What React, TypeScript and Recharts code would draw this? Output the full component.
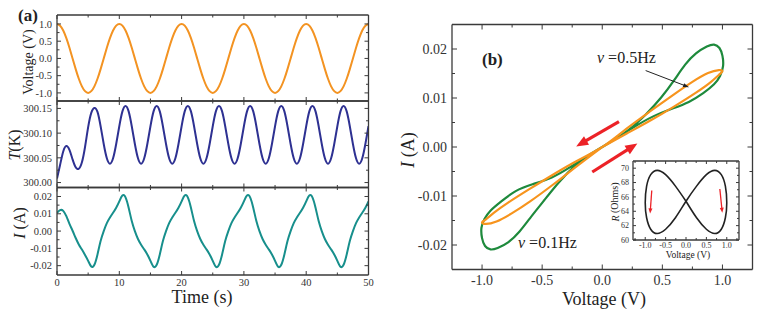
import { LineChart, Line, XAxis, YAxis, ReferenceLine } from "recharts";

const W = 763;
const H = 317;
const SERIF = "'Liberation Serif', 'Times New Roman', serif";
const AXIS = "#3a3a3a";
const LABEL = "#333";

// ---- panel (a): time traces, one sample every 0.5 s ----
const TIME = [
  0, 0.5, 1, 1.5, 2, 2.5, 3, 3.5, 4, 4.5, 5, 5.5, 6, 6.5, 7, 7.5, 8, 8.5, 9, 9.5,
  10, 10.5, 11, 11.5, 12, 12.5, 13, 13.5, 14, 14.5, 15, 15.5, 16, 16.5, 17, 17.5, 18, 18.5, 19, 19.5,
  20, 20.5, 21, 21.5, 22, 22.5, 23, 23.5, 24, 24.5, 25, 25.5, 26, 26.5, 27, 27.5, 28, 28.5, 29, 29.5,
  30, 30.5, 31, 31.5, 32, 32.5, 33, 33.5, 34, 34.5, 35, 35.5, 36, 36.5, 37, 37.5, 38, 38.5, 39, 39.5,
  40, 40.5, 41, 41.5, 42, 42.5, 43, 43.5, 44, 44.5, 45, 45.5, 46, 46.5, 47, 47.5, 48, 48.5, 49, 49.5,
  50,
];

const VOLTAGE = [
  1, 0.95, 0.81, 0.59, 0.31, 0, -0.31, -0.59, -0.81, -0.95, -1, -0.95, -0.81, -0.59, -0.31, 0, 0.31, 0.59, 0.81, 0.95,
  1, 0.95, 0.81, 0.59, 0.31, 0, -0.31, -0.59, -0.81, -0.95, -1, -0.95, -0.81, -0.59, -0.31, 0, 0.31, 0.59, 0.81, 0.95,
  1, 0.95, 0.81, 0.59, 0.31, 0, -0.31, -0.59, -0.81, -0.95, -1, -0.95, -0.81, -0.59, -0.31, 0, 0.31, 0.59, 0.81, 0.95,
  1, 0.95, 0.81, 0.59, 0.31, 0, -0.31, -0.59, -0.81, -0.95, -1, -0.95, -0.81, -0.59, -0.31, 0, 0.31, 0.59, 0.81, 0.95,
  1, 0.95, 0.81, 0.59, 0.31, 0, -0.31, -0.59, -0.81, -0.95, -1, -0.95, -0.81, -0.59, -0.31, 0, 0.31, 0.59, 0.81, 0.95,
  1,
];

const TEMP = [
  300.008, 300.036, 300.063, 300.074, 300.066, 300.047, 300.031, 300.028, 300.041, 300.072,
  300.112, 300.141, 300.151, 300.143, 300.114, 300.078, 300.049, 300.038, 300.049, 300.078,
  300.114, 300.144, 300.155, 300.144, 300.114, 300.078, 300.049, 300.038, 300.049, 300.078,
  300.114, 300.144, 300.155, 300.144, 300.114, 300.078, 300.049, 300.038, 300.049, 300.078,
  300.114, 300.144, 300.155, 300.144, 300.114, 300.078, 300.049, 300.038, 300.049, 300.078,
  300.114, 300.144, 300.155, 300.144, 300.114, 300.078, 300.049, 300.038, 300.049, 300.078,
  300.114, 300.144, 300.155, 300.144, 300.114, 300.078, 300.049, 300.038, 300.049, 300.078,
  300.114, 300.144, 300.155, 300.144, 300.114, 300.078, 300.049, 300.038, 300.049, 300.078,
  300.114, 300.144, 300.155, 300.144, 300.114, 300.078, 300.049, 300.038, 300.049, 300.078,
  300.114, 300.144, 300.155, 300.144, 300.114, 300.078, 300.049, 300.038, 300.049, 300.078,
  300.114,
];

const CURRENT = [
  0.0105, 0.0121, 0.0117, 0.0086, 0.0042, 0.0002, -0.004, -0.0077, -0.0107, -0.0138,
  -0.0172, -0.0205, -0.0195, -0.0135, -0.0058, 0, 0.0046, 0.0079, 0.0106, 0.0135,
  0.0172, 0.0206, 0.0195, 0.0135, 0.0058, 0, -0.0046, -0.0079, -0.0106, -0.0135,
  -0.0172, -0.0206, -0.0195, -0.0135, -0.0058, 0, 0.0046, 0.0079, 0.0106, 0.0135,
  0.0172, 0.0206, 0.0195, 0.0135, 0.0058, 0, -0.0046, -0.0079, -0.0106, -0.0135,
  -0.0172, -0.0206, -0.0195, -0.0135, -0.0058, 0, 0.0046, 0.0079, 0.0106, 0.0135,
  0.0172, 0.0206, 0.0195, 0.0135, 0.0058, 0, -0.0046, -0.0079, -0.0106, -0.0135,
  -0.0172, -0.0206, -0.0195, -0.0135, -0.0058, 0, 0.0046, 0.0079, 0.0106, 0.0135,
  0.0172, 0.0206, 0.0195, 0.0135, 0.0058, 0, -0.0046, -0.0079, -0.0106, -0.0135,
  -0.0172, -0.0206, -0.0195, -0.0135, -0.0058, 0, 0.0046, 0.0079, 0.0106, 0.0135,
  0.0172,
];

const TIME_TICKS = [0, 5, 10, 15, 20, 25, 30, 35, 40, 45, 50];
const TIME_MAJOR = [0, 10, 20, 30, 40, 50];
const VOLT_TICKS = [-1, -0.75, -0.5, -0.25, 0, 0.25, 0.5, 0.75, 1];
const VOLT_MAJOR = [-1, -0.5, 0, 0.5, 1];
const TEMP_TICKS = [300, 300.025, 300.05, 300.075, 300.1, 300.125, 300.15];
const TEMP_MAJOR = [300, 300.05, 300.1, 300.15];
const CUR_TICKS = [-0.02, -0.015, -0.01, -0.005, 0, 0.005, 0.01, 0.015, 0.02];
const CUR_MAJOR = [-0.02, -0.01, 0, 0.01, 0.02];

// ---- panel (b): I-V loops ----
const GREEN_V = [
  0, 0.12, 0.26, 0.42, 0.58, 0.72, 0.84, 0.93, 0.98, 1.005, 1.0, 0.975, 0.93, 0.87, 0.78, 0.69, 0.6, 0.49, 0.36, 0.22, 0.1, 0,
  -0.12, -0.26, -0.42, -0.58, -0.72, -0.84, -0.93, -0.98, -1.005, -1.0, -0.975, -0.93, -0.87, -0.78, -0.69, -0.6, -0.49, -0.36, -0.22, -0.1, 0,
];
const GREEN_I = [
  0, 0.0018, 0.004, 0.0062, 0.0078, 0.0092, 0.011, 0.0128, 0.0145, 0.0165, 0.0186, 0.0202, 0.0209, 0.0205, 0.0191, 0.0168, 0.0137, 0.0101, 0.0066, 0.0035, 0.0015, 0,
  -0.0018, -0.004, -0.0062, -0.0076, -0.009, -0.0111, -0.013, -0.0147, -0.0165, -0.0186, -0.0202, -0.0209, -0.0206, -0.0194, -0.0173, -0.0145, -0.0111, -0.0072, -0.0037, -0.0015, 0,
];
const ORANGE_V = [
  0, 0.2, 0.4, 0.6, 0.78, 0.9, 0.97, 1.0, 0.97, 0.88, 0.75, 0.6, 0.4, 0.2, 0,
  -0.2, -0.4, -0.6, -0.78, -0.9, -0.97, -1.0, -0.97, -0.88, -0.75, -0.6, -0.4, -0.2, 0,
];
const ORANGE_I = [
  0, 0.0027, 0.0054, 0.0083, 0.0111, 0.0132, 0.0147, 0.0155, 0.0157, 0.0151, 0.0133, 0.0108, 0.0073, 0.0037, 0,
  -0.0027, -0.0055, -0.0085, -0.0113, -0.0134, -0.0148, -0.0154, -0.0157, -0.0152, -0.0135, -0.0111, -0.0075, -0.0037, 0,
];
const B_V_TICKS = [-1, -0.75, -0.5, -0.25, 0, 0.25, 0.5, 0.75, 1];
const B_V_MAJOR = [-1, -0.5, 0, 0.5, 1];
const B_I_TICKS = [-0.02, -0.015, -0.01, -0.005, 0, 0.005, 0.01, 0.015, 0.02];
const B_I_MAJOR = [-0.02, -0.01, 0, 0.01, 0.02];

// ---- inset: R vs V ----
const INSET_V = [
  0, -0.259, -0.5, -0.707, -0.866, -0.966, -1, -0.966, -0.866, -0.707, -0.5, -0.259,
  0, 0.259, 0.5, 0.707, 0.866, 0.966, 1, 0.966, 0.866, 0.707, 0.5, 0.259, 0,
];
const INSET_R = [
  65.4, 67.5, 69.1, 69.7, 69.1, 67.5, 65.2, 63.1, 61.5, 60.9, 61.5, 63.1,
  65.4, 67.5, 69.1, 69.7, 69.1, 67.5, 65.2, 63.1, 61.5, 60.9, 61.5, 63.1, 65.4,
];
const IN_V_TICKS = [-1.25, -1, -0.75, -0.5, -0.25, 0, 0.25, 0.5, 0.75, 1, 1.25];
const IN_V_MAJOR = [-1, -0.5, 0, 0.5, 1];
const IN_R_TICKS = [60, 61, 62, 63, 64, 65, 66, 67, 68, 69, 70];
const IN_R_MAJOR = [60, 62, 64, 66, 68, 70];

// annotation arrows, in data units [x, y]
const RED_ARROWS = [
  { from: [0.139, 0.0052], to: [-0.217, 0.0001] },
  { from: [-0.083, -0.0051], to: [0.292, 0.0007] },
];
const NOTE_ARROW = { from: [0.361, 0.0156], to: [0.722, 0.0122] };
const INSET_ARROWS = [
  { from: [-0.84, 66.9], to: [-0.88, 63.7] },
  { from: [0.83, 67.1], to: [0.89, 63.8] },
];

type Side = "bottom" | "top" | "left" | "right";

interface TickOpts {
  side: Side;
  majors: number[];
  long: number;
  short: number;
  label?: (v: number) => string;
  size: number;
  gap: number;
}

const isMajor = (v: number, list: number[]) => list.some((m) => Math.abs(m - v) < 1e-6);

// inward ticks drawn by hand, labels only on major ones
function makeTick(o: TickOpts) {
  return (p: any) => {
    const v = Number(p.payload.value);
    const major = isMajor(v, o.majors);
    const len = major ? o.long : o.short;
    const x = p.x;
    const y = p.y;
    const txt = o.label && major ? o.label(v) : null;
    let l = [x, y, x, y];
    let text = null;
    if (o.side === "bottom") {
      l = [x, y, x, y - len];
      if (txt) text = <text x={x} y={y + o.gap + o.size * 0.72} textAnchor="middle">{txt}</text>;
    } else if (o.side === "top") {
      l = [x, y, x, y + len];
    } else if (o.side === "left") {
      l = [x, y, x + len, y];
      if (txt) text = <text x={x - o.gap} y={y + o.size * 0.35} textAnchor="end">{txt}</text>;
    } else {
      l = [x, y, x - len, y];
    }
    return (
      <g>
        <line x1={l[0]} y1={l[1]} x2={l[2]} y2={l[3]} stroke={AXIS} strokeWidth={1} />
        {text && (
          <g fill={LABEL} fontSize={o.size} fontFamily={SERIF} stroke="none">
            {text}
          </g>
        )}
      </g>
    );
  };
}

interface FrameOpts {
  xKey: string;
  xDomain: [number, number];
  yDomain: [number, number];
  xTicks: number[];
  xMajors: number[];
  yTicks: number[];
  yMajors: number[];
  xLabel?: (v: number) => string;
  yLabel?: (v: number) => string;
  long: number;
  short: number;
  size: number;
  xGap: number;
  yGap: number;
}

// axes are 1px thick so they render; margins below subtract that pixel
function frame(o: FrameOpts) {
  const common = {
    type: "number" as const,
    allowDataOverflow: true,
    tickLine: false,
    axisLine: { stroke: AXIS, strokeWidth: 1.3 },
    tickSize: 0,
    tickMargin: 0,
    interval: 0 as const,
  };
  const t = { long: o.long, short: o.short, size: o.size };
  return [
    <XAxis key="xb" xAxisId="b" orientation="bottom" dataKey={o.xKey} height={1} domain={o.xDomain} ticks={o.xTicks}
      tick={makeTick({ ...t, side: "bottom", majors: o.xMajors, label: o.xLabel, gap: o.xGap })} {...common} />,
    <XAxis key="xt" xAxisId="t" orientation="top" dataKey={o.xKey} height={1} domain={o.xDomain} ticks={o.xTicks}
      tick={makeTick({ ...t, side: "top", majors: o.xMajors, gap: 0 })} {...common} />,
    <YAxis key="yl" yAxisId="l" orientation="left" width={1} domain={o.yDomain} ticks={o.yTicks}
      tick={makeTick({ ...t, side: "left", majors: o.yMajors, label: o.yLabel, gap: o.yGap })} {...common} />,
    <YAxis key="yr" yAxisId="r" orientation="right" width={1} domain={o.yDomain} ticks={o.yTicks}
      tick={makeTick({ ...t, side: "right", majors: o.yMajors, gap: 0 })} {...common} />,
  ];
}

// plot box in page pixels -> chart margin (minus the 1px axes)
function box(left: number, top: number, right: number, bottom: number) {
  return { left: left - 1, top: top - 1, right: W - right - 1, bottom: H - bottom - 1 };
}

function arrowShape(color: string, width: number, headLen: number, headW: number) {
  return (p: any) => {
    const { x1, y1, x2, y2 } = p;
    const dx = x2 - x1;
    const dy = y2 - y1;
    const L = Math.hypot(dx, dy) || 1;
    const ux = dx / L;
    const uy = dy / L;
    const bx = x2 - ux * headLen;
    const by = y2 - uy * headLen;
    const nx = (-uy * headW) / 2;
    const ny = (ux * headW) / 2;
    return (
      <g>
        <line x1={x1} y1={y1} x2={bx + ux} y2={by + uy} stroke={color} strokeWidth={width} />
        <polygon points={`${x2},${y2} ${bx + nx},${by + ny} ${bx - nx},${by - ny}`} fill={color} />
      </g>
    );
  };
}

const rows = TIME.map((t, k) => ({ t, volt: VOLTAGE[k], temp: TEMP[k], cur: CURRENT[k] }));
const green = GREEN_V.map((v, k) => ({ v, i: GREEN_I[k] }));
const orange = ORANGE_V.map((v, k) => ({ v, i: ORANGE_I[k] }));
const inset = INSET_V.map((v, k) => ({ v, r: INSET_R[k] }));

const A_LEFT = 57;
const A_RIGHT = 368.5;
const layer = { position: "absolute" as const, left: 0, top: 0 };

function TimePanel(props: {
  top: number; bottom: number; dataKey: string; color: string; showX?: boolean;
  yDomain: [number, number]; yTicks: number[]; yMajors: number[]; yLabel: (v: number) => string;
}) {
  return (
    <div style={layer}>
      <LineChart width={W} height={H} data={rows} margin={box(A_LEFT, props.top, A_RIGHT, props.bottom)}>
        {frame({
          xKey: "t", xDomain: [0, 50], yDomain: props.yDomain,
          xTicks: TIME_TICKS, xMajors: TIME_MAJOR, yTicks: props.yTicks, yMajors: props.yMajors,
          xLabel: props.showX ? (v) => String(v) : undefined, yLabel: props.yLabel,
          long: 4, short: 2.5, size: 10.5, xGap: 3, yGap: 5,
        })}
        <Line xAxisId="b" yAxisId="l" dataKey={props.dataKey} type="natural" stroke={props.color}
          strokeWidth={2} dot={false} activeDot={false} isAnimationActive={false} />
      </LineChart>
    </div>
  );
}

export default function App() {
  return (
    <div style={{ position: "absolute", left: 0, top: 0, width: W, height: H, background: "#fff", fontFamily: SERIF }}>
      <TimePanel top={15} bottom={101} dataKey="volt" color="#F39322"
        yDomain={[-1.235, 1.26]} yTicks={VOLT_TICKS} yMajors={VOLT_MAJOR} yLabel={(v) => v.toFixed(1)} />
      <TimePanel top={101} bottom={187.5} dataKey="temp" color="#2E3192"
        yDomain={[299.99, 300.165]} yTicks={TEMP_TICKS} yMajors={TEMP_MAJOR} yLabel={(v) => v.toFixed(2)} />
      <TimePanel top={187.5} bottom={275} dataKey="cur" color="#178F8C" showX
        yDomain={[-0.0254, 0.0252]} yTicks={CUR_TICKS} yMajors={CUR_MAJOR} yLabel={(v) => v.toFixed(2)} />

      <div style={layer}>
        <LineChart width={W} height={H} margin={box(452, 24.5, 752.5, 269.5)}>
          {frame({
            xKey: "v", xDomain: [-1.25, 1.25], yDomain: [-0.025, 0.025],
            xTicks: B_V_TICKS, xMajors: B_V_MAJOR, yTicks: B_I_TICKS, yMajors: B_I_MAJOR,
            xLabel: (v) => v.toFixed(1), yLabel: (v) => v.toFixed(2),
            long: 5, short: 3, size: 14, xGap: 5.5, yGap: 5,
          })}
          <Line xAxisId="b" yAxisId="l" data={green} dataKey="i" type="natural" stroke="#1E8A3C"
            strokeWidth={2.2} dot={false} activeDot={false} isAnimationActive={false} />
          <Line xAxisId="b" yAxisId="l" data={orange} dataKey="i" type="natural" stroke="#F7941D"
            strokeWidth={2.2} dot={false} activeDot={false} isAnimationActive={false} />
          {RED_ARROWS.map((a, k) => (
            <ReferenceLine key={k} xAxisId="b" yAxisId="l"
              segment={[{ x: a.from[0], y: a.from[1] }, { x: a.to[0], y: a.to[1] }]}
              shape={arrowShape("#EC2227", 3.2, 12, 10)} />
          ))}
          <ReferenceLine xAxisId="b" yAxisId="l"
            segment={[{ x: NOTE_ARROW.from[0], y: NOTE_ARROW.from[1] }, { x: NOTE_ARROW.to[0], y: NOTE_ARROW.to[1] }]}
            shape={arrowShape("#222", 1, 6, 4)} />
        </LineChart>
      </div>

      <div style={layer}>
        <LineChart width={W} height={H} margin={box(633, 161, 739, 240)}>
          {frame({
            xKey: "v", xDomain: [-1.3, 1.3], yDomain: [60, 71],
            xTicks: IN_V_TICKS, xMajors: IN_V_MAJOR, yTicks: IN_R_TICKS, yMajors: IN_R_MAJOR,
            xLabel: (v) => v.toFixed(1), yLabel: (v) => String(v),
            long: 3, short: 2, size: 8, xGap: 2, yGap: 4,
          })}
          <Line xAxisId="b" yAxisId="l" data={inset} dataKey="r" type="natural" stroke="#222"
            strokeWidth={1.6} dot={false} activeDot={false} isAnimationActive={false} />
          {INSET_ARROWS.map((a, k) => (
            <ReferenceLine key={k} xAxisId="b" yAxisId="l"
              segment={[{ x: a.from[0], y: a.from[1] }, { x: a.to[0], y: a.to[1] }]}
              shape={arrowShape("#EC2227", 1.3, 5, 4)} />
          ))}
        </LineChart>
      </div>

      <svg width={W} height={H} style={{ ...layer, pointerEvents: "none" }} fontFamily={SERIF} fill="#222">
        <text x={18} y={21} fontSize={17} fontWeight="bold">(a)</text>
        <text x={482} y={65} fontSize={17} fontWeight="bold">(b)</text>
        <text x={597} y={63} fontSize={16}><tspan fontStyle="italic">ν</tspan> =0.5Hz</text>
        <text x={518} y={248} fontSize={16}><tspan fontStyle="italic">ν</tspan> =0.1Hz</text>
        <text x={202} y={303} fontSize={18} textAnchor="middle">Time (s)</text>
        <text x={604} y={305} fontSize={18} textAnchor="middle">Voltage (V)</text>
        <text x={688} y={258} fontSize={9.5} textAnchor="middle">Voltage (V)</text>
        <text transform="translate(28,62) rotate(-90)" fontSize={14} textAnchor="middle" dominantBaseline="central">Voltage (V)</text>
        <text transform="translate(14,145) rotate(-90)" fontSize={16} textAnchor="middle" dominantBaseline="central">
          <tspan fontStyle="italic">T</tspan>(K)
        </text>
        <text transform="translate(19,223) rotate(-90)" fontSize={16} textAnchor="middle" dominantBaseline="central">
          <tspan fontStyle="italic">I</tspan> (A)
        </text>
        <text transform="translate(408,150) rotate(-90)" fontSize={18} textAnchor="middle" dominantBaseline="central">
          <tspan fontStyle="italic">I</tspan> (A)
        </text>
        <text transform="translate(614.5,202) rotate(-90)" fontSize={10} textAnchor="middle" dominantBaseline="central">
          <tspan fontStyle="italic">R</tspan> (Ohms)
        </text>
      </svg>
    </div>
  );
}
